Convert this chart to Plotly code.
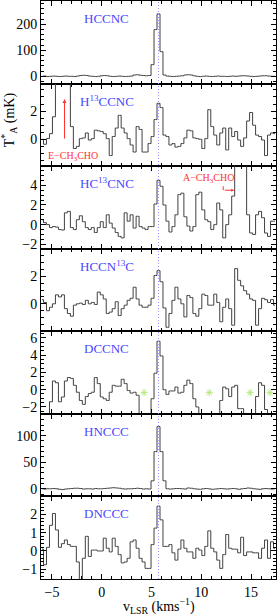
import plotly.graph_objects as go
from plotly.subplots import make_subplots

# channel velocities (km/s)
velocity = [-6.0, -5.7, -5.4, -5.1, -4.8, -4.5, -4.2, -3.9, -3.6, -3.3,
            -3.0, -2.7, -2.4, -2.1, -1.8, -1.5, -1.2, -0.9, -0.6, -0.3,
            0.0, 0.3, 0.6, 0.9, 1.2, 1.5, 1.8, 2.1, 2.4, 2.7,
            3.0, 3.3, 3.6, 3.9, 4.2, 4.5, 4.8, 5.1, 5.4, 5.7,
            6.0, 6.3, 6.6, 6.9, 7.2, 7.5, 7.8, 8.1, 8.4, 8.7,
            9.0, 9.3, 9.6, 9.9, 10.2, 10.5, 10.8, 11.1, 11.4, 11.7,
            12.0, 12.3, 12.6, 12.9, 13.2, 13.5, 13.8, 14.1, 14.4, 14.7,
            15.0, 15.3, 15.6, 15.9, 16.2, 16.5, 16.8, 17.1, 17.4]

hccnc = [0, 1, -1, 0, 1, 0, -1, 0, 1, 0,
         0, -1, 1, 3, 4, 3, 1, 0, -1, 0,
         2, 3, 2, 0, -1, 0, 1, 0, -1, 0,
         1, 5, 6, 4, 3, 2, 3, 45, 180, 240,
         95, 5, 1, 0, -1, 0, 1, 2, 5, 6,
         5, 2, 0, -1, 0, 1, 0, -1, 0, 1,
         0, 0, -1, 0, 1, 0, 1, 2, 2, 1,
         0, -1, 0, 1, 2, 2, 1, 0, 0]

h13ccnc = [0, -0.35, 0.05, 0.4, 1.6, 5, 6.5, 7, 6, 5,
           0.9, -0.65, -0.5, 0.05, 0.1, 0.45, -0.05, 0.05, 0.65, 0.6,
           0.55, 0.4, 0.05, -1.15, 0.2, 0.8, 1.7, 0.8, 0.45, 0.05,
           -0.4, -0.9, 0.9, 0.7, -0.9, -0.9, -0.3, 0.2, 1.4, 2.55,
           2.25, 0.3, 0.2, -0.4, -0.3, -0.55, -0.5, -0.3, 0.1, 0.65,
           0.6, 0.1, 0.05, 0.0, -0.65, 0.05, 2.1, 0.9, 0.3, -0.4,
           0.45, 0.8, -0.75, 0.8, 0.2, 0.55, -0.05, -0.5, 0.1, 1.3,
           1.9, 1.0, 0.3, 0.2, -0.05, -1.15, 0.3, 0.45, 0.4]

hc13cnc = [0.5, 0.2, 0.0, -0.3, -0.2, -0.25, -0.5, -0.55, 1.2, 1.35,
           -0.3, -0.5, 0.5, 0.9, 0.3, -0.3, -0.5, -0.3, -0.8, -0.3,
           0.3, -0.3, 1.0, 0.15, -0.35, -0.8, -1.2, -1.35, 1.2, 0.35,
           1.0, -0.35, 0.85, -0.2, -0.35, -0.5, -0.2, -0.2, 2.1, 4.5,
           3.9, 2.0, 0.35, -0.75, -0.2, 1.0, 3.05, 3.2, 0.8, -0.15,
           -0.65, -0.2, 3.05, 3.3, 1.5, 0.5, 0.3, -0.5, 0.0, 2.2,
           1.5, -1.35, 0.0, 1.0, 2.9, 8, 8, 8, 8, 1.0,
           -0.85, -1.0, 1.0, 1.35, 0.7, -0.85, -1.2, 0.35, 0.35]

hccn13c = [0.3, 0.1, -0.5, -0.25, 0.0, 0.65, 0.5, 0.65, -0.35, -0.7,
           -0.9, -0.1, 0.0, 0.05, -0.05, 0.25, 0.0, 0.1, -0.05, 0.85,
           0.65, 0.35, -0.7, -0.6, -0.35, 0.15, -0.85, -0.35, -0.1, 0.25,
           0.4, 1.2, 0.35, -0.1, -0.25, -0.25, -0.1, 0.4, 2.05, 2.4,
           1.6, -0.3, -1.7, -0.7, 0.25, 1.2, 0.35, 0.0, -0.95, 0.6,
           0.45, -0.7, -0.9, -0.35, 0.7, 0.6, -0.1, -0.1, 0.7, 0.1,
           -1.3, -0.25, 0.35, -0.35, -1.55, 2.55, 1.7, 1.3, 0.95, 0.7,
           0.35, 0.25, -1.55, -0.35, 0.4, 0.3, 0.1, 0.3, -0.1]

B = -5  # blanked channels (plotted below the axis)
dccnc = [B, B, B, -1.4, 1.0, 0.8, -1.4, -0.85, 1.0, 1.4,
         1.3, 0.5, -0.3, -1.25, -1.7, -0.8, -0.45, -0.3, 1.4, 0.7,
         -0.85, -1.05, -1.25, -0.3, 0.5, 0.4, 0.4, 1.2, 0.7, -0.1,
         -0.4, -0.3, -0.65, B, B, B, B, -1.05, 1.9, 5.6,
         3.9, 0, -0.55, -0.15, -0.15, 0.3, -0.4, -0.3, 0.5, 1.1,
         0.7, -1.05, -2.0, B, B, B, B, B, B, B,
         -1.25, 0.3, 0.1, -0.8, 0.3, 0.5, -2.2, -2.2, B, B,
         B, B, -0.8, 0.8, 0.5, -2.3, B, B, B]

hnccc = [0, -0.5, 0, 0, 0.5, 0, -1, -1.5, -0.5, 0,
         0.5, 1, 1, 0.5, -0.5, 0, 0, -0.5, 0.5, 0,
         0, 0.5, 1, 1.5, 2, 1.5, 1, 0, -0.5, 0,
         0, 0.5, 1, 0.5, -0.5, 0, -0.5, 15, 70, 117,
         70, 15, 0, -0.5, 0, 0.5, 0.5, 0, -0.5, 1.5,
         1, 0, -0.5, -1, 0, 0.5, 0, -1, -0.5, 0,
         0.5, 0, -0.5, 0, 0.5, 0, -1, 0, 0.5, 1.5,
         1, 0, -0.5, -1, 0, 0.5, 0, -0.5, 0]

dnccc = [0.1, -0.75, 0.2, 1.4, 2.05, 1.15, 0.2, 0.4, 0.6, 0.35,
         0.25, 0.25, -0.6, -1.6, -0.4, 0.8, -0.3, 0.05, 0.05, 0.0,
         0.0, 0.7, 0.15, -0.05, 0.7, 0.25, -0.2, -0.65, -0.6, -0.4,
         0.5, 0.6, 0.15, -0.4, -0.6, -0.95, -0.95, 0.35, 1.25, 2.45,
         1.7, 0.25, 0.25, 0.35, -0.1, -0.5, 0.1, 0.6, 0.15, -0.05,
         -0.05, -0.4, 0.15, 0.05, -0.25, 0.25, 1.1, 0.15, -0.05, -0.5,
         -0.95, -0.2, 0.9, 0.15, 0.1, 0.1, -0.1, 0.75, -0.25, -0.05,
         -0.05, -0.1, -0.1, -0.4, 0.15, 0.6, -0.4, 0.5, 0.15]

names = ["HCCNC", "H<sup>13</sup>CCNC", "HC<sup>13</sup>CNC", "HCCN<sup>13</sup>C",
         "DCCNC", "HNCCC", "DNCCC"]
spectra = [hccnc, h13ccnc, hc13cnc, hccn13c, dccnc, hnccc, dnccc]
y_ranges = [[-28, 290], [-1.9, 3.95], [-2.45, 5.95], [-1.99, 3.99],
            [-2.8, 6.75], [-14.4, 141], [-1.53, 2.98]]
y_major = [100, 2, 2, 2, 2, 50, 1]
y_minor = [20, 0.5, 0.5, 0.5, 0.5, 10, 0.2]

v_sys = 5.7
asterisk_v = [4.25, 10.8, 14.9, 16.9]
asterisk_t = [-0.35, -0.35, -0.35, -0.35]

SERIF = "Liberation Serif"
BLUE = "#4848ff"
RED = "#ff3535"

fig = make_subplots(rows=7, cols=1, shared_xaxes=True, vertical_spacing=0)

for i, (nm, sp) in enumerate(zip(names, spectra)):
    r = i + 1
    fig.add_trace(go.Scatter(x=velocity, y=sp, mode="lines",
                             line=dict(shape="hvh", color="#404040", width=1),
                             hoverinfo="skip"), row=r, col=1)
    fig.update_yaxes(range=y_ranges[i], tick0=0, dtick=y_major[i],
                     ticks="inside", ticklen=5, tickwidth=1, tickcolor="black",
                     showline=True, linecolor="black", linewidth=1, mirror="ticks",
                     minor=dict(dtick=y_minor[i], tick0=0, ticks="inside", ticklen=3,
                                tickcolor="black", tickwidth=1),
                     showgrid=False, zeroline=False,
                     tickfont=dict(family=SERIF, size=14, color="black"),
                     row=r, col=1)
    fig.update_xaxes(range=[-6.1, 17.5], tick0=0, dtick=5,
                     ticks="inside", ticklen=5, tickwidth=1, tickcolor="black",
                     showline=True, linecolor="black", linewidth=1, mirror="ticks",
                     minor=dict(dtick=1, tick0=0, ticks="inside", ticklen=3,
                                tickcolor="black", tickwidth=1),
                     showgrid=False, zeroline=False,
                     showticklabels=(r == 7),
                     tickfont=dict(family=SERIF, size=14, color="black"),
                     row=r, col=1)
    xs = "x" if r == 1 else f"x{r}"
    ys = "y" if r == 1 else f"y{r}"
    fig.add_annotation(text=nm, x=0.5, y=0.79, xref=xs, yref=f"{ys} domain",
                       showarrow=False, xanchor="center", yanchor="middle",
                       font=dict(family=SERIF, size=13, color=BLUE))

# asterisks in DCCNC panel
fig.add_trace(go.Scatter(x=asterisk_v, y=asterisk_t, mode="markers",
                         marker=dict(symbol="asterisk-open", size=6,
                                     line=dict(color="#00e0ff", width=1)),
                         hoverinfo="skip"), row=5, col=1)

# systemic velocity dotted line
fig.add_shape(type="line", xref="x7", yref="paper", x0=v_sys, x1=v_sys, y0=0, y1=1,
              line=dict(color="#9a9aff", width=1, dash="1px,2px"))

# E-CH3CHO label and arrow (panel 2)
fig.add_annotation(text="E\u2212CH<sub>3</sub>CHO", x=-2.9, y=-1.25, xref="x2", yref="y2",
                   showarrow=False, font=dict(family=SERIF, size=10, color=RED))
fig.add_annotation(text="", x=-3.74, y=2.85, ax=-3.74, ay=-0.05, xref="x2", yref="y2",
                   axref="x2", ayref="y2", showarrow=True, arrowhead=2, arrowsize=0.8,
                   arrowwidth=1, arrowcolor=RED)

# A-CH3CHO label and hook arrow (panel 3)
fig.add_annotation(text="A\u2212CH<sub>3</sub>CHO", x=10.7, y=4.65, xref="x3", yref="y3",
                   showarrow=False, font=dict(family=SERIF, size=10, color=RED))
fig.add_shape(type="line", xref="x3", yref="y3", x0=12.2, x1=12.2, y0=3.9, y1=3.5,
              line=dict(color=RED, width=1))
fig.add_annotation(text="", x=13.3, y=3.5, ax=12.2, ay=3.5, xref="x3", yref="y3",
                   axref="x3", ayref="y3", showarrow=True, arrowhead=2, arrowsize=0.6,
                   arrowwidth=1, arrowcolor=RED)

# axis titles
fig.add_annotation(text="T<sup>*</sup><sub>A</sub> (mK)", x=-0.133, y=0.795,
                   xref="paper", yref="paper", textangle=-90, showarrow=False,
                   xanchor="center", yanchor="middle",
                   font=dict(family=SERIF, size=14, color="black"))
fig.add_annotation(text="v<sub>LSR</sub> (kms<sup>\u22121</sup>)", x=0.5, y=-0.047,
                   xref="paper", yref="paper", showarrow=False,
                   xanchor="center", yanchor="middle",
                   font=dict(family=SERIF, size=14, color="black"))

fig.update_layout(width=277, height=615, margin=dict(l=41, r=1, t=1, b=36),
                  plot_bgcolor="white", paper_bgcolor="white", showlegend=False)

fig.write_html("out.html", config={"displayModeBar": False},
               post_script="document.body.style.margin='0px';document.body.style.overflow='hidden';")
